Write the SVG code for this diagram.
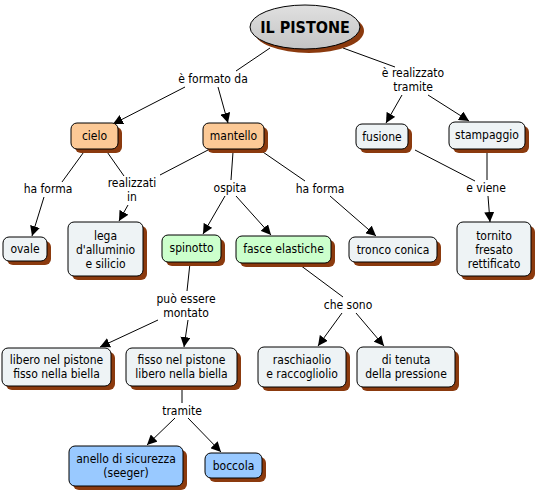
<svg xmlns="http://www.w3.org/2000/svg" width="535" height="493" viewBox="0 0 535 493">
<defs>
<marker id="ah" viewBox="0 0 10 10" refX="10" refY="5" markerWidth="10" markerHeight="10" markerUnits="userSpaceOnUse" orient="auto">
<path d="M0,0 L10,5 L0,10 z" fill="#000"/>
</marker>
<linearGradient id="eg" x1="0" y1="0" x2="0" y2="1">
<stop offset="0" stop-color="#e0e0e0"/>
<stop offset="1" stop-color="#c4c4c4"/>
</linearGradient>
</defs>
<style>
text{font-family:"DejaVu Sans Condensed","DejaVu Sans",sans-serif;font-size:12px;fill:#000;text-anchor:middle}
.sh{fill:#8b3a0e}
.b{stroke:#000;stroke-width:1}
.w{fill:#eef3f5}
.o{fill:#fcc996}
.g{fill:#ccffcc}
.bl{fill:#99c9ff}
.ln{stroke:#000;stroke-width:1;fill:none}
.ar{stroke:#000;stroke-width:1;fill:none;marker-end:url(#ah)}
.t{font-size:16px;font-weight:bold}
</style>
<g id="connectors">
<line class="ln" x1="270" y1="48" x2="236" y2="71"/>
<line class="ar" x1="185" y1="87" x2="113" y2="124"/>
<line class="ar" x1="218" y1="87" x2="228" y2="123"/>
<line class="ln" x1="343" y1="48" x2="395" y2="67"/>
<line class="ar" x1="402" y1="95" x2="386" y2="123"/>
<line class="ar" x1="428" y1="95" x2="469" y2="121"/>
<line class="ln" x1="86" y1="149" x2="62" y2="182"/>
<line class="ar" x1="44" y1="197" x2="32" y2="236"/>
<line class="ln" x1="105" y1="149" x2="124" y2="176"/>
<line class="ln" x1="208" y1="150" x2="160" y2="175"/>
<line class="ar" x1="128" y1="205" x2="119" y2="221"/>
<line class="ln" x1="233" y1="152" x2="231" y2="180"/>
<line class="ar" x1="225" y1="196" x2="203" y2="234"/>
<line class="ar" x1="236" y1="196" x2="271" y2="235"/>
<line class="ln" x1="260" y1="150" x2="305" y2="181"/>
<line class="ar" x1="330" y1="196" x2="376" y2="236"/>
<line class="ln" x1="415" y1="150" x2="475" y2="181"/>
<line class="ln" x1="487" y1="152" x2="487" y2="180"/>
<line class="ar" x1="488" y1="196" x2="490" y2="222"/>
<line class="ln" x1="190" y1="263" x2="187" y2="291"/>
<line class="ar" x1="158" y1="320" x2="100" y2="347"/>
<line class="ar" x1="188" y1="320" x2="184" y2="347"/>
<line class="ln" x1="300" y1="265" x2="343" y2="297"/>
<line class="ar" x1="342" y1="313" x2="318" y2="346"/>
<line class="ar" x1="356" y1="313" x2="384" y2="346"/>
<line class="ln" x1="182" y1="388" x2="182" y2="403"/>
<line class="ar" x1="175" y1="418" x2="147" y2="445"/>
<line class="ar" x1="188" y1="418" x2="221" y2="452"/>
</g>
<g id="labels">
<text x="213" y="83">è formato da</text>
<text x="413" y="77">è realizzato</text>
<text x="413" y="91">tramite</text>
<text x="48" y="193">ha forma</text>
<text x="132" y="187">realizzati</text>
<text x="132" y="201">in</text>
<text x="230" y="192">ospita</text>
<text x="320" y="193">ha forma</text>
<text x="486" y="192">e viene</text>
<text x="186" y="303">può essere</text>
<text x="186" y="317">montato</text>
<text x="348" y="309">che sono</text>
<text x="182" y="415">tramite</text>
</g>
<g id="n-pistone">
<ellipse class="sh" cx="309" cy="31" rx="55" ry="22"/>
<ellipse class="b" fill="url(#eg)" cx="305" cy="27" rx="55" ry="22"/>
<text class="t" x="305" y="33">IL PISTONE</text>
</g>
<g id="n-cielo">
<rect class="sh" x="75" y="127" width="47" height="26" rx="6"/>
<rect class="b o" x="71" y="123" width="47" height="26" rx="6"/>
<text x="94.5" y="140">cielo</text>
</g>
<g id="n-mantello">
<rect class="sh" x="207" y="127" width="61" height="26" rx="6"/>
<rect class="b o" x="203" y="123" width="61" height="26" rx="6"/>
<text x="233.5" y="140">mantello</text>
</g>
<g id="n-fusione">
<rect class="sh" x="360" y="128" width="52" height="25" rx="6"/>
<rect class="b w" x="356" y="124" width="52" height="25" rx="6"/>
<text x="382" y="141">fusione</text>
</g>
<g id="n-stampaggio">
<rect class="sh" x="453" y="126" width="76" height="27" rx="6"/>
<rect class="b w" x="449" y="122" width="76" height="27" rx="6"/>
<text x="487" y="139">stampaggio</text>
</g>
<g id="n-ovale">
<rect class="sh" x="7" y="241" width="44" height="24" rx="6"/>
<rect class="b w" x="3" y="237" width="44" height="24" rx="6"/>
<text x="25" y="253">ovale</text>
</g>
<g id="n-lega">
<rect class="sh" x="72" y="226" width="75" height="54" rx="6"/>
<rect class="b w" x="68" y="222" width="75" height="54" rx="6"/>
<text x="105.5" y="240">lega</text>
<text x="105.5" y="254">d'alluminio</text>
<text x="105.5" y="268">e silicio</text>
</g>
<g id="n-spinotto">
<rect class="sh" x="166" y="239" width="59" height="27" rx="6"/>
<rect class="b g" x="162" y="235" width="59" height="27" rx="6"/>
<text x="191.5" y="252">spinotto</text>
</g>
<g id="n-fasce">
<rect class="sh" x="240" y="240" width="95" height="27" rx="6"/>
<rect class="b g" x="236" y="236" width="95" height="27" rx="6"/>
<text x="283.5" y="253">fasce elastiche</text>
</g>
<g id="n-tronco">
<rect class="sh" x="353" y="241" width="88" height="25" rx="6"/>
<rect class="b w" x="349" y="237" width="88" height="25" rx="6"/>
<text x="393" y="254">tronco conica</text>
</g>
<g id="n-tornito">
<rect class="sh" x="461" y="226" width="74" height="54" rx="6"/>
<rect class="b w" x="457" y="222" width="74" height="54" rx="6"/>
<text x="494" y="240">tornito</text>
<text x="494" y="254">fresato</text>
<text x="494" y="268">rettificato</text>
</g>
<g id="n-libero">
<rect class="sh" x="6" y="352" width="109" height="38" rx="6"/>
<rect class="b w" x="2" y="348" width="109" height="38" rx="6"/>
<text x="56.5" y="364">libero nel pistone</text>
<text x="56.5" y="378">fisso nella biella</text>
</g>
<g id="n-fisso">
<rect class="sh" x="130" y="352" width="111" height="38" rx="6"/>
<rect class="b w" x="126" y="348" width="111" height="38" rx="6"/>
<text x="181.5" y="364">fisso nel pistone</text>
<text x="181.5" y="378">libero nella biella</text>
</g>
<g id="n-raschia">
<rect class="sh" x="262" y="351" width="88" height="40" rx="6"/>
<rect class="b w" x="258" y="347" width="88" height="40" rx="6"/>
<text x="302" y="364">raschiaolio</text>
<text x="302" y="378">e raccogliolio</text>
</g>
<g id="n-tenuta">
<rect class="sh" x="361" y="351" width="98" height="40" rx="6"/>
<rect class="b w" x="357" y="347" width="98" height="40" rx="6"/>
<text x="406" y="364">di tenuta</text>
<text x="406" y="378">della pressione</text>
</g>
<g id="n-anello">
<rect class="sh" x="73" y="450" width="114" height="40" rx="6"/>
<rect class="b bl" x="69" y="446" width="114" height="40" rx="6"/>
<text x="126" y="463">anello di sicurezza</text>
<text x="126" y="477">(seeger)</text>
</g>
<g id="n-boccola">
<rect class="sh" x="209" y="457" width="57" height="25" rx="6"/>
<rect class="b bl" x="205" y="453" width="57" height="25" rx="6"/>
<text x="233.5" y="470">boccola</text>
</g>
</svg>
